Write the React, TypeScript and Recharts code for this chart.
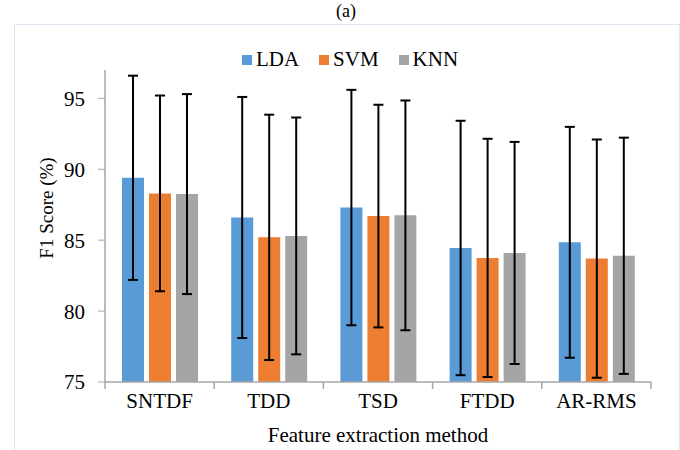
import React from 'react';
import { BarChart, Bar, XAxis, YAxis, ErrorBar, Legend, Label } from 'recharts';

const methods = ['SNTDF', 'TDD', 'TSD', 'FTDD', 'AR-RMS'];
const ldaScores = [89.4, 86.6, 87.3, 84.45, 84.85];
const svmScores = [88.3, 85.2, 86.7, 83.75, 83.7];
const knnScores = [88.25, 85.3, 86.75, 84.1, 83.9];
const ldaErr = [7.2, 8.5, 8.3, 8.97, 8.14];
const svmErr = [6.9, 8.65, 7.85, 8.4, 8.4];
const knnErr = [7.05, 8.35, 8.1, 7.83, 8.33];
const yTicks = [75, 80, 85, 90, 95];

const series = [
  { key: 'LDA', color: '#5b9bd5' },
  { key: 'SVM', color: '#ed7d31' },
  { key: 'KNN', color: '#a5a5a5' },
];

const data = methods.map((name, i) => ({
  name,
  LDA: ldaScores[i],
  SVM: svmScores[i],
  KNN: knnScores[i],
  ldaErr: ldaErr[i],
  svmErr: svmErr[i],
  knnErr: knnErr[i],
}));

const FONT = 'Liberation Serif';
const AXIS = '#a6a6a6';

const LegendContent = () => (
  <div style={{ display: 'flex', justifyContent: 'center', fontFamily: FONT, fontSize: 21, color: '#000' }}>
    {series.map(s => (
      <span key={s.key} style={{ display: 'flex', alignItems: 'center', marginRight: 20 }}>
        <span style={{ width: 10, height: 10, background: s.color, display: 'inline-block', marginRight: 4 }} />
        {s.key}
      </span>
    ))}
  </div>
);

// category label plus tick marks at the category boundaries (Excel style)
const CategoryTick = (props: any) => {
  const { x, y, payload, index } = props;
  const half = payload.offset || 0;
  const axisY = y - 11;
  return (
    <g>
      <line x1={x - half} x2={x - half} y1={axisY} y2={axisY + 7} stroke={AXIS} strokeWidth={1.5} />
      {index === methods.length - 1 && (
        <line x1={x + half} x2={x + half} y1={axisY} y2={axisY + 7} stroke={AXIS} strokeWidth={1.5} />
      )}
      <text x={x} y={y} dy="0.71em" textAnchor="middle" fill="#000" fontFamily={FONT} fontSize={21}>
        {payload.value}
      </text>
    </g>
  );
};

const YLabel = (props: any) => {
  const vb = props.viewBox;
  const cx = 46;
  const cy = vb.y + vb.height / 2 - 18;
  return (
    <text x={cx} y={cy} transform={`rotate(-90, ${cx}, ${cy})`} textAnchor="middle" dominantBaseline="central" fill="#000" fontFamily={FONT} fontSize={19}>
      F1 Score (%)
    </text>
  );
};

const App: React.FC = () => {
  return (
    <div style={{ position: 'absolute', left: 0, top: 0, width: 680, height: 450, background: '#fff', overflow: 'hidden' }}>
      <div style={{ position: 'absolute', top: 1, left: 6, width: 680, textAlign: 'center', fontFamily: FONT, fontSize: 18 }}>(a)</div>
      <div style={{ position: 'absolute', left: 14, top: 24, width: 664, height: 440, border: '1px solid #dde7f3' }} />
      <div style={{ position: 'absolute', left: 0, top: 0 }}>
        <BarChart
          width={680}
          height={450}
          data={data}
          margin={{ top: 70, right: 29, left: 20, bottom: 8 }}
          barSize={22}
          barGap={5}
        >
          <XAxis
            dataKey="name"
            height={60}
            axisLine={{ stroke: AXIS, strokeWidth: 1.5 }}
            tickLine={false}
            tickSize={0}
            tickMargin={11}
            tick={<CategoryTick />}
            interval={0}
          >
            <Label value="Feature extraction method" position="insideBottom" offset={0} style={{ fill: '#000', fontFamily: FONT, fontSize: 21 }} />
          </XAxis>
          <YAxis
            width={85}
            domain={[75, 97]}
            ticks={yTicks}
            allowDataOverflow
            axisLine={{ stroke: AXIS, strokeWidth: 1.5 }}
            tickLine={{ stroke: AXIS }}
            tickSize={7}
            tickMargin={13}
            tick={{ fill: '#000', fontFamily: FONT, fontSize: 21 }}
          >
            <Label content={<YLabel />} />
          </YAxis>
          <Legend verticalAlign="middle" wrapperStyle={{ top: 47, left: 20, width: 680 }} content={<LegendContent />} />
          <Bar dataKey="LDA" fill="#5b9bd5" isAnimationActive={false}>
            <ErrorBar dataKey="ldaErr" width={5} stroke="#000" strokeWidth={2} isAnimationActive={false} />
          </Bar>
          <Bar dataKey="SVM" fill="#ed7d31" isAnimationActive={false}>
            <ErrorBar dataKey="svmErr" width={5} stroke="#000" strokeWidth={2} isAnimationActive={false} />
          </Bar>
          <Bar dataKey="KNN" fill="#a5a5a5" isAnimationActive={false}>
            <ErrorBar dataKey="knnErr" width={5} stroke="#000" strokeWidth={2} isAnimationActive={false} />
          </Bar>
        </BarChart>
      </div>
    </div>
  );
};

export default App;
